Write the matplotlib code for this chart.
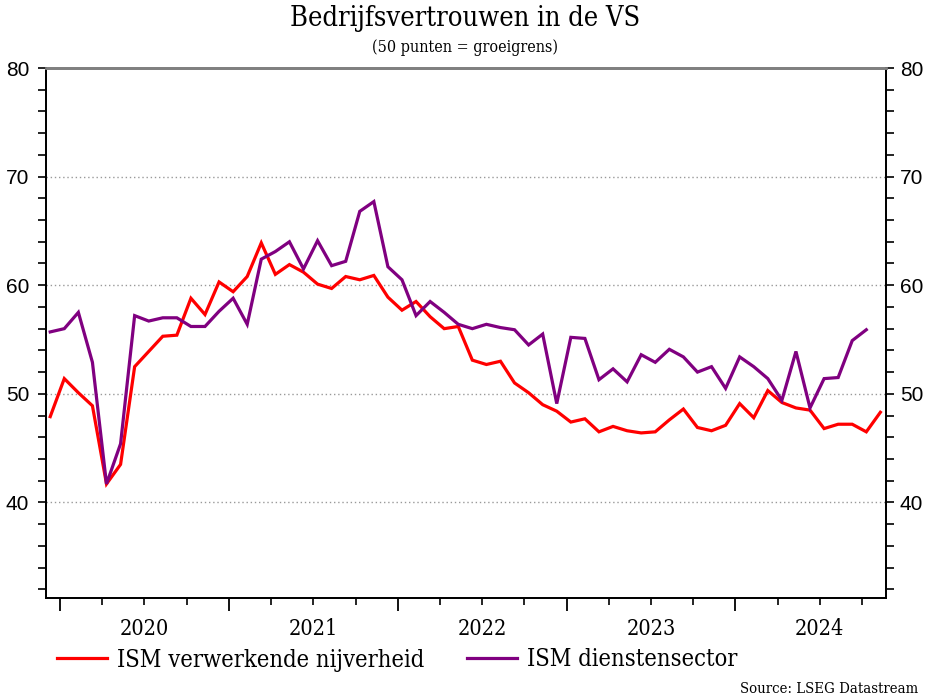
import matplotlib
matplotlib.use("Agg")
import matplotlib.pyplot as plt
import matplotlib.transforms as mtransforms
from matplotlib.lines import Line2D
import numpy as np

# Monthly data, Dec 2019 .. Nov 2024
manufacturing = [47.9, 51.4, 50.1, 48.9, 41.7, 43.5, 52.5, 53.9, 55.3, 55.4,
                 58.8, 57.3, 60.3, 59.4, 60.8, 63.9, 61.0, 61.9, 61.2, 60.1,
                 59.7, 60.8, 60.5, 60.9, 58.9, 57.7, 58.5, 57.1, 56.0, 56.2,
                 53.1, 52.7, 53.0, 51.0, 50.1, 49.0, 48.4, 47.4, 47.7, 46.5,
                 47.0, 46.6, 46.4, 46.5, 47.6, 48.6, 46.9, 46.6, 47.1, 49.1,
                 47.8, 50.3, 49.2, 48.7, 48.5, 46.8, 47.2, 47.2, 46.5, 48.3]
# Dec 2019 .. Oct 2024
services = [55.7, 56.0, 57.5, 52.9, 41.7, 45.4, 57.2, 56.7, 57.0, 57.0,
            56.2, 56.2, 57.6, 58.8, 56.4, 62.4, 63.1, 64.0, 61.5, 64.1,
            61.8, 62.2, 66.8, 67.7, 61.7, 60.5, 57.2, 58.5, 57.5, 56.4,
            56.0, 56.4, 56.1, 55.9, 54.5, 55.5, 49.1, 55.2, 55.1, 51.3,
            52.3, 51.1, 53.6, 52.9, 54.1, 53.4, 52.0, 52.5, 50.5, 53.4,
            52.5, 51.4, 49.4, 53.9, 48.7, 51.4, 51.5, 54.9, 55.9]
years = ["2020", "2021", "2022", "2023", "2024"]
y_ticks = [40, 50, 60, 70, 80]
labels = ["ISM verwerkende nijverheid", "ISM dienstensector"]
colors = ["#FF0000", "#800080"]

serif = "DejaVu Serif"
fig = plt.figure(figsize=(9.3, 7.0), dpi=100)
ax = fig.add_axes([46/930, 1-598/700, (886-46)/930, (598-68)/700])

x_m = np.arange(len(manufacturing))
x_s = np.arange(len(services))
ax.plot(x_m, manufacturing, color=colors[0], lw=2.3, solid_joinstyle="miter", zorder=3)
ax.plot(x_s, services, color=colors[1], lw=2.3, solid_joinstyle="miter", zorder=3)

ax.set_xlim(-0.3, 59.4)
ax.set_ylim(31.2, 80)

# y axes
ax.set_yticks(y_ticks)
ax.set_yticks(np.arange(32, 80, 2), minor=True)
ax.yaxis.grid(True, which="major", linestyle=(0, (1, 2)), color="#999999", lw=1)
ax.tick_params(axis="y", which="both", direction="out", length=6, width=1.2,
               labelsize=15, pad=6)
for t in ax.get_yticklabels():
    t.set_fontfamily("Liberation Sans")

ax2 = ax.twinx()
ax2.set_ylim(ax.get_ylim())
ax2.set_yticks(y_ticks)
ax2.set_yticks(np.arange(32, 80, 2), minor=True)
ax2.tick_params(axis="y", which="both", direction="out", length=6, width=1.2,
                labelsize=15, pad=4)
for t in ax2.get_yticklabels():
    t.set_fontfamily("Liberation Sans")

# x axis ticks
offset = 0.7
major = [offset + 12*k for k in range(5)]
minor = [offset + 3*k for k in range(20) if k % 4 != 0]
ax.set_xticks(major)
ax.set_xticks(minor, minor=True)
ax.set_xticklabels([])
ax.tick_params(axis="x", which="major", direction="out", length=9, width=1.3)
ax.tick_params(axis="x", which="minor", direction="out", length=5, width=1.2)
trans = mtransforms.blended_transform_factory(ax.transData, ax.transAxes)
for k, yr in enumerate(years):
    ax.text(major[k] + 6, -0.058, yr, transform=trans, ha="center", va="center",
            fontsize=15.5, family=serif, fontstretch="condensed")

for a in (ax, ax2):
    a.spines["top"].set_color("#808080")
    a.spines["top"].set_linewidth(2)
    for s in ("left", "right", "bottom"):
        a.spines[s].set_linewidth(1.3)
        a.spines[s].set_color("black")

fig.text(0.5, 1-19/700, "Bedrijfsvertrouwen in de VS", ha="center", va="center",
         fontsize=19.5, family=serif, fontstretch="condensed")
fig.text(0.5, 1-47/700, "(50 punten = groeigrens)", ha="center", va="center",
         fontsize=11.5, family=serif, fontstretch="condensed")

handles = [Line2D([], [], color=c, lw=2.3) for c in colors]
fig.legend(handles, labels, loc="center left", bbox_to_anchor=(36/930, 1-660/700),
           ncol=2, frameon=False, handlelength=2.1, handletextpad=0.45,
           columnspacing=1.8, prop={"family": serif, "size": 17, "stretch": "condensed"})
fig.text(918/930, 1-689/700, "Source: LSEG Datastream", ha="right", va="center",
         fontsize=10.7, family=serif, fontstretch="condensed")

fig.savefig("out.png", dpi=100)
